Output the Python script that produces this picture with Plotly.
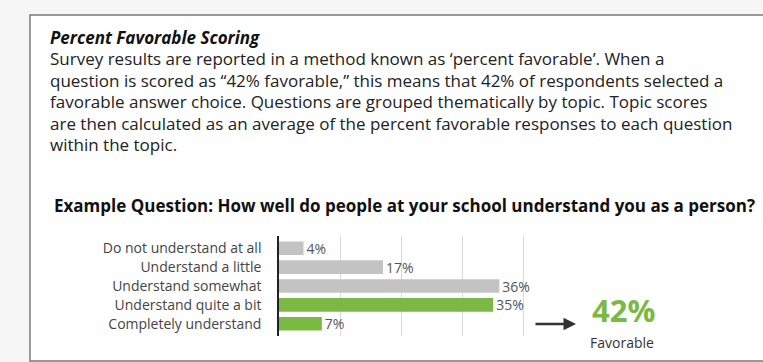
import plotly.graph_objects as go

W, H = 763, 362

categories = ["Do not understand at all", "Understand a little", "Understand somewhat",
              "Understand quite a bit", "Completely understand"]
values = [4, 17, 36, 35, 7]
favorable = [False, False, False, True, True]
favorable_total = "42%"

title_text = "Percent Favorable Scoring"
body_lines = [
    "Survey results are reported in a method known as \u2018percent favorable\u2019. When a",
    "question is scored as \u201c42% favorable,\u201d this means that 42% of respondents selected a",
    "favorable answer choice. Questions are grouped thematically by topic. Topic scores",
    "are then calculated as an average of the percent favorable responses to each question",
    "within the topic.",
]
question = "Example Question: How well do people at your school understand you as a person?"

GREEN = "#7cb944"
GRAY = "#c3c3c3"
FONT = "Open Sans"

def px(x):
    return x / W

def py(y):
    return 1 - y / H

fig = go.Figure()
fig.add_trace(go.Bar(
    y=categories, x=values, orientation="h",
    marker=dict(color=[GREEN if f else GRAY for f in favorable], line=dict(width=0)),
    width=0.72,
    text=[f"{v}%" for v in values], textposition="outside", constraintext="none",
    textfont=dict(family=FONT, size=14, color="#555555"),
    cliponaxis=False,
    hoverinfo="skip",
))

fig.update_layout(
    width=W, height=H,
    margin=dict(l=0, r=0, t=0, b=0),
    paper_bgcolor="#f6f6f6",
    plot_bgcolor="rgba(0,0,0,0)",
    showlegend=False,
    xaxis=dict(domain=[px(279), px(279 + 44 * 6.12)], range=[0, 44],
               tickvals=[10, 20, 30, 40], showticklabels=False,
               showgrid=True, gridcolor="#d9d9d9", gridwidth=1,
               zeroline=False, showline=False, fixedrange=True),
    yaxis=dict(domain=[py(336), py(236)], range=[4.65, -0.65],
               categoryorder="array", categoryarray=categories,
               showline=True, linecolor="#222222", linewidth=1.5,
               ticks="", ticklabelstandoff=13,
               tickfont=dict(family=FONT, size=14, color="#444444"),
               showgrid=False, zeroline=False, fixedrange=True),
)

# white box with border
fig.add_shape(type="rect", xref="paper", yref="paper",
              x0=px(30), x1=1.02, y0=py(361), y1=py(15),
              fillcolor="white", line=dict(color="#7a7a7a", width=1.5), layer="below")

fig.add_annotation(xref="paper", yref="paper", x=px(48), y=py(37),
                   xanchor="left", yanchor="middle", showarrow=False,
                   text=title_text,
                   font=dict(family=FONT, size=17, color="#111111", weight=700, style="italic"))
for i, line in enumerate(body_lines):
    fig.add_annotation(xref="paper", yref="paper", x=px(48), y=py(58.5 + 21.6 * i),
                       xanchor="left", yanchor="middle", showarrow=False,
                       text=line, font=dict(family=FONT, size=17, color="#222222"))

fig.add_annotation(xref="paper", yref="paper", x=px(52), y=py(205),
                   xanchor="left", yanchor="middle", showarrow=False,
                   text=f"<b>{question}</b>",
                   font=dict(family=FONT, size=17, color="#111111"))

# arrow
fig.add_annotation(xref="paper", yref="paper", x=px(576), y=py(324),
                   ax=-42, ay=0, showarrow=True, arrowhead=2, arrowsize=1,
                   arrowwidth=2.5, arrowcolor="#333333", text="")

fig.add_annotation(xref="paper", yref="paper", x=px(623), y=py(310),
                   xanchor="center", yanchor="middle", showarrow=False,
                   text=f"<b>{favorable_total}</b>", borderpad=0,
                   font=dict(family=FONT, size=31, color=GREEN))
fig.add_annotation(xref="paper", yref="paper", x=px(622), y=py(342.5),
                   xanchor="center", yanchor="middle", showarrow=False,
                   text="Favorable", borderpad=0,
                   font=dict(family=FONT, size=14, color="#333333"))

fig.write_html("out.html", config={"displayModeBar": False},
               post_script="document.body.style.margin='0';")
